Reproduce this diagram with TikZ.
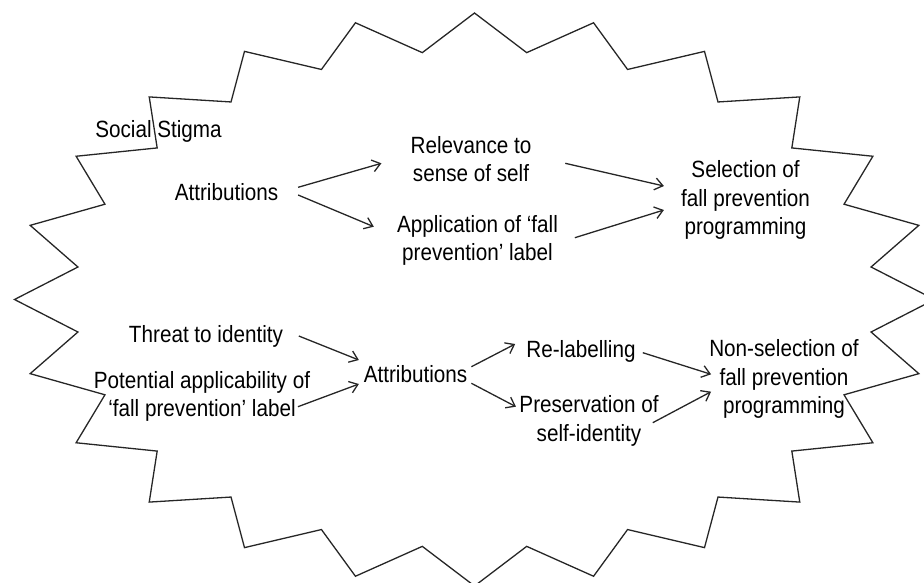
\documentclass[tikz,border=0pt]{standalone}
\usepackage{fontspec}
\setmainfont{Liberation Sans}[FakeStretch=0.88]
\usetikzlibrary{arrows.meta}
\begin{document}
\begin{tikzpicture}[x=1pt, y=-1pt,
    txt/.style={inner sep=0pt, anchor=base, align=center, font=\fontsize{23.5}{28.5}\selectfont, text=black},
    arr/.style={-{Straight Barb[length=8pt,width=12pt]}, line width=1.3pt, draw=black!85}]
  \useasboundingbox (0,0) rectangle (924,582);
  \clip (0,0) rectangle (924,582);
  % jagged outline
  \draw[line width=1.3pt, black!85] (934.5,299.5)
    \foreach \k in {0,...,23} {
      -- ({474.5+400*cos(15*\k+7.5)},{299.5-249*sin(15*\k+7.5)})
      -- ({474.5+460*cos(15*\k+15)},{299.5-286.5*sin(15*\k+15)})
    } -- cycle;
  % upper chain
  \node[txt] (stigma) at (158.5,137) {Social Stigma};
  \node[txt] (attrtop) at (226.5,200) {Attributions};
  \node[txt] (relevance) at (471,181.8) {Relevance to\\sense of self};
  \node[txt] (application) at (477.5,260.5) {Application of `fall\\prevention' label};
  \node[txt] (selection) at (745.5,234.7) {Selection of\\fall prevention\\programming};
  % lower chain
  \node[txt] (threat) at (206,342.3) {Threat to identity};
  \node[txt] (potential) at (202,416.5) {Potential applicability of\\`fall prevention' label};
  \node[txt] (attrlow) at (415.5,382.7) {Attributions};
  \node[txt] (relabel) at (581,357.7) {Re-labelling};
  \node[txt] (preserve) at (589,441.2) {Preservation of\\self-identity};
  \node[txt] (nonsel) at (784,413.7) {Non-selection of\\fall prevention\\programming};
  \draw[arr] ([shift={(19.7,-12.7)}]attrtop.base east) -- ([shift={(-29,-18.5)}]relevance.base west);
  \draw[arr] ([shift={(19.7,-5)}]attrtop.base east) -- ([shift={(-23,-33.8)}]application.base west);
  \draw[arr] ([shift={(33.7,-18.5)}]relevance.base east) -- ([shift={(-17,-48.7)}]selection.base west);
  \draw[arr] ([shift={(16.7,-22.8)}]application.base east) -- ([shift={(-17,-24.7)}]selection.base west);
  \draw[arr] ([shift={(15.6,-6.3)}]threat.base east) -- ([shift={(-4.7,-22.7)}]attrlow.base west);
  \draw[arr] ([shift={(-12.3,-9.8)}]potential.base east) -- ([shift={(-4.7,1.3)}]attrlow.base west);
  \draw[arr] ([shift={(4,-16)}]attrlow.base east) -- ([shift={(-11,-13.7)}]relabel.base west);
  \draw[arr] ([shift={(4,0.6)}]attrlow.base east) -- ([shift={(-3.3,-34.5)}]preserve.base west);
  \draw[arr] ([shift={(7,-5)}]relabel.base east) -- ([shift={(2,-39.4)}]nonsel.base west);
  \draw[arr] ([shift={(-6,-18.5)}]preserve.base east) -- ([shift={(2,-22)}]nonsel.base west);
\end{tikzpicture}
\end{document}
